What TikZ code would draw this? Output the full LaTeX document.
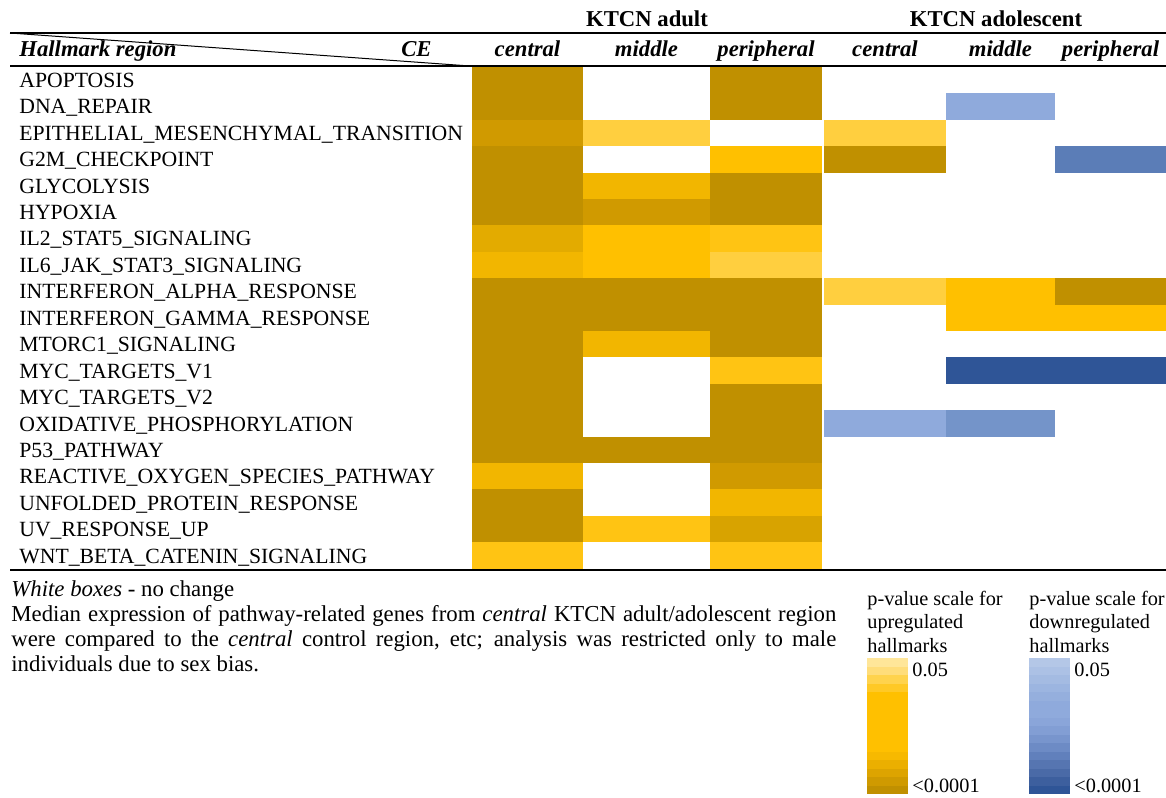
\documentclass[tikz,border=0pt]{standalone}
\usepackage{fontspec}
\setmainfont{Liberation Serif}

%% colours of the cells (up = gold, down = blue)
\definecolor{upDark}{HTML}{C09000}
\definecolor{upDeep}{HTML}{D09A00}
\definecolor{upStrong}{HTML}{E3AB00}
\definecolor{upMid}{HTML}{F2B600}
\definecolor{upGold}{HTML}{FFC000}
\definecolor{upWarm}{HTML}{FFC413}
\definecolor{upLight}{HTML}{FFCF3F}
\definecolor{upTan}{HTML}{D8A300}
\definecolor{downLight}{HTML}{8FAADC}
\definecolor{downMid}{HTML}{7494C9}
\definecolor{downStrong}{HTML}{5B7DB7}
\definecolor{downDark}{HTML}{2F5597}

\begin{document}
\begin{tikzpicture}[x=0.5pt, y=-0.5pt,
  rowlabel/.style={anchor=base west, inner sep=0pt, font=\fontsize{10.85}{13}\selectfont},
  colhead/.style={anchor=base, inner sep=0pt, font=\fontsize{11.35}{13}\selectfont\bfseries\itshape},
  grouphead/.style={anchor=base, inner sep=0pt, font=\fontsize{11.35}{13}\selectfont\bfseries},
  notetext/.style={anchor=base west, inner sep=0pt, font=\fontsize{11.4}{13}\selectfont},
  scaletext/.style={anchor=base west, inner sep=0pt, font=\fontsize{10.15}{12}\selectfont}]
  \useasboundingbox (0,0) rectangle (1166,797);
  \coordinate (TL) at (10, 33);
  \coordinate (TR) at (1166, 33);
  \coordinate (HL) at (10, 66);
  \coordinate (HR) at (1166, 66);
  \coordinate (HD) at (470, 66);
  \coordinate (BL) at (10, 569.5);
  \coordinate (BR) at (1166, 569.5);

  %% cells, one loop per column (row / colour)
  \foreach \r/\c in {0/upDark, 1/upDark, 2/upDeep, 3/upDark, 4/upDark, 5/upDark, 6/upStrong,
      7/upMid, 8/upDark, 9/upDark, 10/upDark, 11/upDark, 12/upDark, 13/upDark, 14/upDark,
      15/upMid, 16/upDark, 17/upDark, 18/upWarm}
    \fill[\c] (472, {67+26.4*\r}) rectangle (583, {67+26.4*(\r+1)});
  \foreach \r/\c in {2/upLight, 4/upMid, 5/upDeep, 6/upGold, 7/upGold, 8/upDark, 9/upDark,
      10/upMid, 14/upDark, 17/upWarm}
    \fill[\c] (583, {67+26.4*\r}) rectangle (710, {67+26.4*(\r+1)});
  \foreach \r/\c in {0/upDark, 1/upDark, 3/upGold, 4/upDark, 5/upDark, 6/upWarm, 7/upLight,
      8/upDark, 9/upDark, 10/upDark, 11/upWarm, 12/upDark, 13/upDark, 14/upDark, 15/upDeep,
      16/upMid, 17/upTan, 18/upWarm}
    \fill[\c] (710, {67+26.4*\r}) rectangle (822, {67+26.4*(\r+1)});
  \foreach \r/\c in {2/upLight, 3/upDark, 8/upLight, 13/downLight}
    \fill[\c] (824, {67+26.4*\r}) rectangle (946, {67+26.4*(\r+1)});
  \foreach \r/\c in {1/downLight, 8/upGold, 9/upGold, 11/downDark, 13/downMid}
    \fill[\c] (946, {67+26.4*\r}) rectangle (1055, {67+26.4*(\r+1)});
  \foreach \r/\c in {3/downStrong, 8/upDark, 9/upGold, 11/downDark}
    \fill[\c] (1055, {67+26.4*\r}) rectangle (1166, {67+26.4*(\r+1)});

  %% rules
  \draw[line width=1pt] (TL) -- (TR);
  \draw[line width=1pt] (HL) -- (HR);
  \draw[line width=0.5pt] (TL) -- (HD);
  \draw[line width=1pt] (BL) -- (BR);

  %% header
  \node[grouphead] (adult) at (647, 27) {KTCN adult};
  \node[grouphead] (adolescent) at (996, 27) {KTCN adolescent};
  \node[colhead, anchor=base west] (hallmark) at (19, 57) {Hallmark region};
  \node[colhead, anchor=base east] (ce) at (432, 57) {CE};
  \node[colhead] (adultC) at (527.5, 57) {central};
  \node[colhead] (adultM) at (646.5, 57) {middle};
  \node[colhead] (adultP) at (766, 57) {peripheral};
  \node[colhead] (adolC) at (885, 57) {central};
  \node[colhead] (adolM) at (1000.5, 57) {middle};
  \node[colhead] (adolP) at (1110.5, 57) {peripheral};

  %% hallmark names
  \foreach \name [count=\i from 0] in {APOPTOSIS, DNA\_REPAIR,
      EPITHELIAL\_MESENCHYMAL\_TRANSITION, G2M\_CHECKPOINT, GLYCOLYSIS, HYPOXIA,
      IL2\_STAT5\_SIGNALING, IL6\_JAK\_STAT3\_SIGNALING, INTERFERON\_ALPHA\_RESPONSE,
      INTERFERON\_GAMMA\_RESPONSE, MTORC1\_SIGNALING, MYC\_TARGETS\_V1, MYC\_TARGETS\_V2,
      OXIDATIVE\_PHOSPHORYLATION, P53\_PATHWAY, REACTIVE\_OXYGEN\_SPECIES\_PATHWAY,
      UNFOLDED\_PROTEIN\_RESPONSE, UV\_RESPONSE\_UP, WNT\_BETA\_CATENIN\_SIGNALING}
    \node[rowlabel] (row\i) at (19, {87.3+26.44*\i}) {\name};

  %% notes below the table
  \node[notetext] (white) at (11, 596) {\textit{White boxes} - no change};
  \node[notetext] (median1) at (11, 621)
    {\makebox[412.5pt][s]{Median expression of pathway-related genes from \textit{central} KTCN adult/adolescent region}};
  \node[notetext] (median2) at (11, 646)
    {\makebox[412.5pt][s]{were compared to the \textit{central} control region, etc; analysis was restricted only to male}};
  \node[notetext] (median3) at (11, 671) {individuals due to sex bias.};

  %% p-value scales
  \foreach \c [count=\i from 0] in {FFE699, FFDD7A, FFD34D, FFC926, FFC000, FFC000, FFC000,
      FFC000, FFC000, FFC000, FFC000, F7B900, EBAF00, DDA400, CF9A00, C09000} {
    \definecolor{barcol}{HTML}{\c}
    \fill[barcol] (867, {658+8.5*\i}) rectangle (908, {658+8.5*(\i+1)});
  }
  \foreach \c [count=\i from 0] in {B4C7E7, ACC1E5, A4BBE2, 9CB5E0, 95AFDD, 8FAADC, 8FAADC,
      8AA5D9, 829ED4, 7895CD, 6D8BC5, 6180BC, 5675B1, 4A6AA7, 3D5F9E, 2F5597} {
    \definecolor{barcol}{HTML}{\c}
    \fill[barcol] (1029, {658+8.5*\i}) rectangle (1070, {658+8.5*(\i+1)});
  }
  \node[scaletext] (upT1) at (867, 605) {p-value scale for};
  \node[scaletext] (upT2) at (867, 628) {upregulated};
  \node[scaletext] (upT3) at (867, 652) {hallmarks};
  \node[scaletext] (downT1) at (1029, 605) {p-value scale for};
  \node[scaletext] (downT2) at (1029, 628) {downregulated};
  \node[scaletext] (downT3) at (1029, 652) {hallmarks};
  \node[scaletext] (upHi) at (912, 676) {0.05};
  \node[scaletext] (upLo) at (912, 792) {<0.0001};
  \node[scaletext] (downHi) at (1074, 676) {0.05};
  \node[scaletext] (downLo) at (1074, 792) {<0.0001};

\end{tikzpicture}
\end{document}
